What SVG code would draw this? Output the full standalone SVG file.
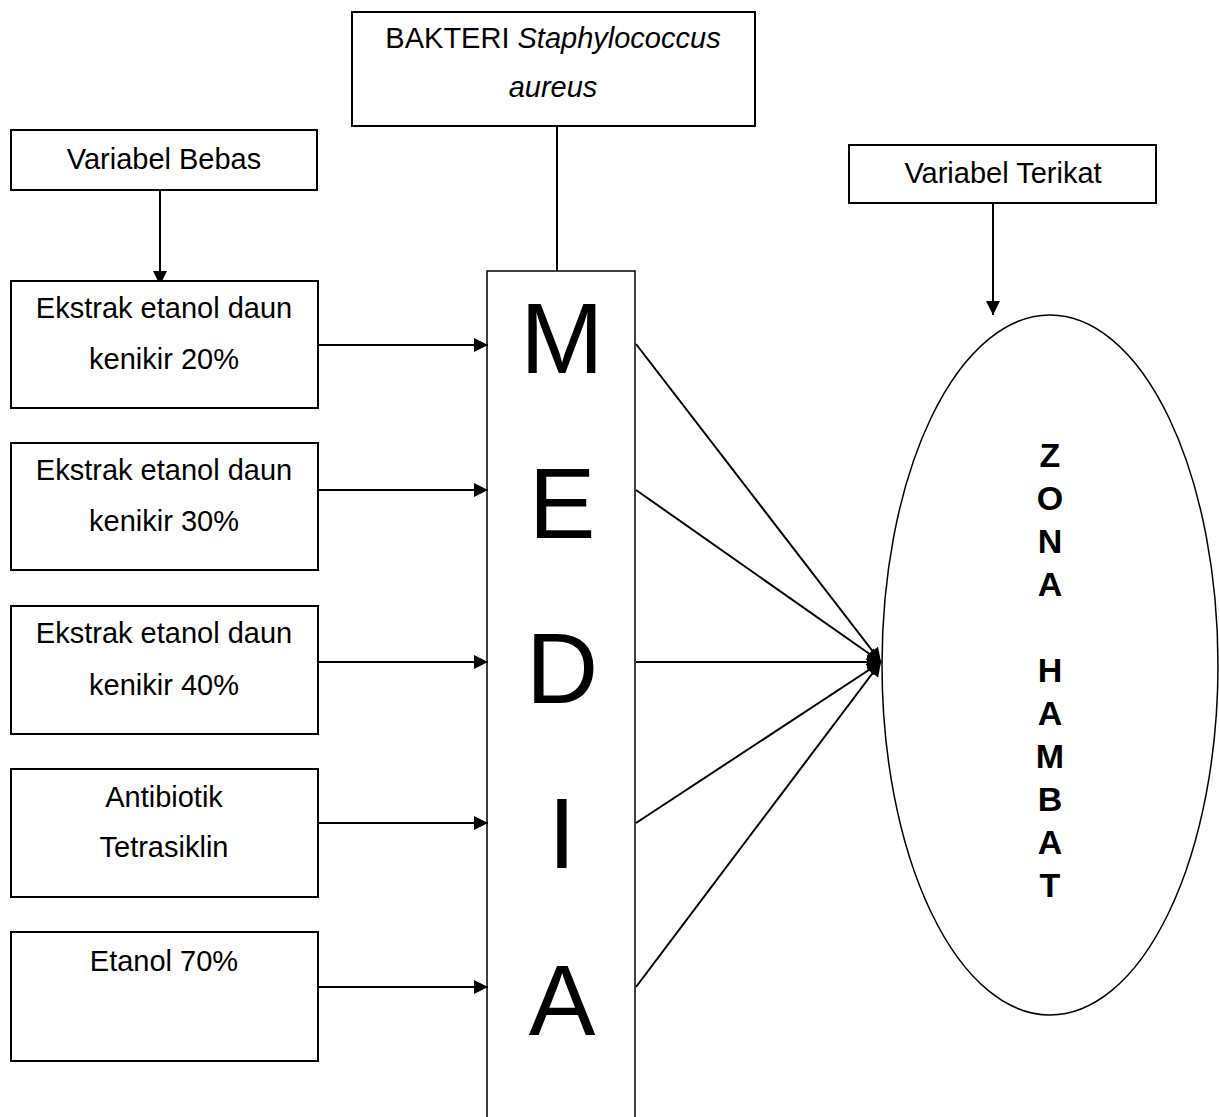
<svg xmlns="http://www.w3.org/2000/svg" width="1219" height="1117" viewBox="0 0 1219 1117">
<style>
.box{fill:#fff;stroke:#000;stroke-width:2}
.t{font-family:"Liberation Sans",Arial,sans-serif;font-size:29px;fill:#000;text-anchor:middle}
.big{font-family:"Liberation Sans",Arial,sans-serif;font-size:100px;fill:#000;text-anchor:middle}
.zb{font-family:"Liberation Sans",Arial,sans-serif;font-size:34px;font-weight:bold;fill:#000;text-anchor:middle}
.ln{stroke:#000;stroke-width:2;fill:none}
.arr{stroke:#000;stroke-width:2;fill:none;marker-end:url(#ah)}
</style>
<defs>
<marker id="ah" viewBox="0 0 10 10" refX="10" refY="5" markerWidth="8" markerHeight="7" markerUnits="strokeWidth" orient="auto">
<path d="M0,0 L10,5 L0,10 z" fill="#000"/>
</marker>
</defs>
<rect width="1219" height="1117" fill="#fff"/>

<g id="connectors">
<line class="ln" x1="557" y1="126" x2="557" y2="271"/>
<line class="arr" x1="160" y1="190" x2="160" y2="285"/>
<line class="arr" x1="993" y1="203" x2="993" y2="315"/>
<line class="arr" x1="318" y1="345" x2="488" y2="345"/>
<line class="arr" x1="318" y1="490" x2="488" y2="490"/>
<line class="arr" x1="318" y1="662" x2="488" y2="662"/>
<line class="arr" x1="318" y1="823" x2="488" y2="823"/>
<line class="arr" x1="318" y1="987" x2="488" y2="987"/>
<line class="arr" x1="636" y1="344" x2="881" y2="662"/>
<line class="arr" x1="636" y1="490" x2="881" y2="662"/>
<line class="arr" x1="636" y1="662" x2="881" y2="662"/>
<line class="arr" x1="636" y1="823" x2="881" y2="662"/>
<line class="arr" x1="636" y1="987" x2="881" y2="662"/>
</g>

<g id="bakteri">
<rect class="box" x="352" y="12" width="403" height="114"/>
<text class="t" x="553" y="48">BAKTERI <tspan font-style="italic">Staphylococcus</tspan></text>
<text class="t" x="553" y="97" font-style="italic">aureus</text>
</g>

<g id="variabel-bebas">
<rect class="box" x="11" y="130" width="306" height="60"/>
<text class="t" x="164" y="169">Variabel Bebas</text>
</g>

<g id="variabel-terikat">
<rect class="box" x="849" y="145" width="307" height="58"/>
<text class="t" x="1003" y="183">Variabel Terikat</text>
</g>

<g id="ekstrak20">
<rect class="box" x="11" y="281" width="307" height="127"/>
<text class="t" x="164" y="318">Ekstrak etanol daun</text>
<text class="t" x="164" y="369">kenikir 20%</text>
</g>

<g id="ekstrak30">
<rect class="box" x="11" y="443" width="307" height="127"/>
<text class="t" x="164" y="480">Ekstrak etanol daun</text>
<text class="t" x="164" y="531">kenikir 30%</text>
</g>

<g id="ekstrak40">
<rect class="box" x="11" y="606" width="307" height="128"/>
<text class="t" x="164" y="643">Ekstrak etanol daun</text>
<text class="t" x="164" y="695">kenikir 40%</text>
</g>

<g id="tetrasiklin">
<rect class="box" x="11" y="769" width="307" height="128"/>
<text class="t" x="164" y="807">Antibiotik</text>
<text class="t" x="164" y="857">Tetrasiklin</text>
</g>

<g id="etanol70">
<rect class="box" x="11" y="932" width="307" height="129"/>
<text class="t" x="164" y="971">Etanol 70%</text>
</g>

<g id="media">
<rect x="487" y="271" width="148" height="860" fill="none" stroke="#000" stroke-width="1.5"/>
<text class="big" x="562" y="373">M</text>
<text class="big" x="562" y="538">E</text>
<text class="big" x="562" y="703">D</text>
<text class="big" x="562" y="868">I</text>
<text class="big" x="562" y="1035">A</text>
</g>

<g id="zona-hambat">
<ellipse cx="1050" cy="665" rx="168" ry="350" fill="none" stroke="#000" stroke-width="1.5"/>
<text class="zb" x="1050" y="467">Z</text>
<text class="zb" x="1050" y="510">O</text>
<text class="zb" x="1050" y="553">N</text>
<text class="zb" x="1050" y="596">A</text>
<text class="zb" x="1050" y="682">H</text>
<text class="zb" x="1050" y="725">A</text>
<text class="zb" x="1050" y="768">M</text>
<text class="zb" x="1050" y="811">B</text>
<text class="zb" x="1050" y="854">A</text>
<text class="zb" x="1050" y="897">T</text>
</g>
</svg>
